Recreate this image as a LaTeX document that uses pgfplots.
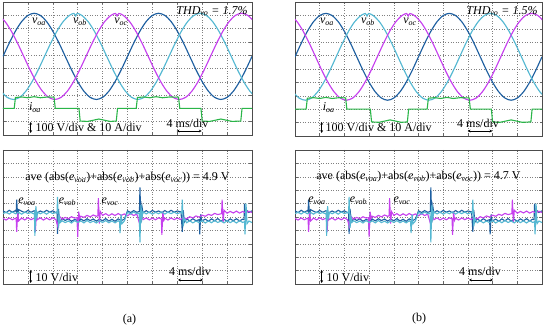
\documentclass[border=0pt]{standalone}
\usepackage{fontspec}
\setmainfont{Liberation Serif}
\usepackage{pgfplots}
\usepackage{pgfplotstable}
\pgfplotsset{compat=1.18}
\usetikzlibrary{arrows.meta}
\definecolor{cA}{RGB}{30,95,160}
\definecolor{cB}{RGB}{85,184,210}
\definecolor{cC}{RGB}{198,64,238}
\definecolor{cI}{RGB}{42,181,72}

\pgfplotstableread{
x y
0 5.91
0.25 6.91
0.5 7.81
0.75 8.53
1 8.99
1.25 9.15
1.5 8.99
1.75 8.53
2 7.81
2.25 6.91
2.5 5.91
2.75 4.91
3 4.01
3.25 3.29
3.5 2.83
3.75 2.67
4 2.83
4.25 3.29
4.5 4.01
4.75 4.91
5 5.91
5.25 6.91
5.5 7.81
5.75 8.53
6 8.99
6.25 9.15
6.5 8.99
6.75 8.53
7 7.81
7.25 6.91
7.5 5.91
7.75 4.91
8 4.01
8.25 3.29
8.5 2.83
8.75 2.67
9 2.83
9.25 3.29
9.5 4.01
9.75 4.91
10 5.91
}\voa

\pgfplotstableread{
x y
-0.083 3.29
0.167 2.83
0.417 2.67
0.667 2.83
0.917 3.29
1.167 4.01
1.417 4.91
1.667 5.91
1.917 6.91
2.167 7.81
2.417 8.53
2.667 8.99
2.85 9.14
2.917 8.95
2.98 9.14
3.167 8.99
3.417 8.53
3.667 7.81
3.917 6.91
4.167 5.91
4.417 4.91
4.667 4.01
4.917 3.29
5.167 2.83
5.417 2.67
5.667 2.83
5.917 3.29
6.167 4.01
6.417 4.91
6.667 5.91
6.917 6.91
7.167 7.81
7.417 8.53
7.667 8.99
7.917 9.15
8.167 8.99
8.417 8.53
8.667 7.81
8.917 6.91
9.167 5.91
9.417 4.91
9.667 4.01
9.917 3.29
10.167 2.83
}\vob

\pgfplotstableread{
x y
-0.167 8.99
0.083 8.53
0.333 7.81
0.583 6.91
0.833 5.91
1.083 4.91
1.333 4.01
1.583 3.29
1.833 2.83
2.083 2.67
2.333 2.83
2.583 3.29
2.833 4.01
3.083 4.91
3.333 5.91
3.583 6.91
3.833 7.81
4.083 8.53
4.333 8.99
4.52 9.14
4.583 8.95
4.65 9.14
4.833 8.99
5.083 8.53
5.333 7.81
5.583 6.91
5.833 5.91
6.083 4.91
6.333 4.01
6.583 3.29
6.833 2.83
7.083 2.67
7.333 2.83
7.583 3.29
7.833 4.01
8.083 4.91
8.333 5.91
8.583 6.91
8.833 7.81
9.083 8.53
9.333 8.99
9.583 9.15
9.833 8.99
10.083 8.53
}\voc

\pgfplotstableread{
x y
0 2.0
0.45 2.0
0.5 2.82
0.75 2.86
1.0 2.8
1.25 2.88
1.5 2.8
1.8 2.86
2.05 2.84
2.1 2.0
3.05 2.0
3.1 1.05
3.4 1.02
3.65 1.12
3.85 1.2
4.05 1.12
4.3 1.02
4.55 1.05
4.6 2.0
5.35 2.0
5.4 2.82
5.65 2.86
5.9 2.8
6.15 2.88
6.4 2.8
6.7 2.86
7.05 2.84
7.1 2.0
7.95 2.0
8.0 1.05
8.3 1.02
8.55 1.12
8.75 1.2
8.95 1.12
9.2 1.02
9.55 1.05
9.6 2.0
10 2.0
}\ioa

\pgfplotstableread{
x y
0 5.46
0.125 5.32
0.25 5.50
0.375 5.36
0.5 5.48
0.53 5.40
0.55 6.30
0.59 5.0
0.63 5.55
0.75 5.43
0.875 5.33
1.0 5.49
1.125 5.35
1.25 5.47
1.375 5.31
1.5 5.45
1.625 5.34
1.75 5.50
1.875 5.37
2.0 5.46
2.125 5.32
2.17 5.38
2.19 3.75
2.23 5.6
2.27 4.6
2.375 4.88
2.5 4.74
2.625 4.86
2.75 4.68
2.875 4.81
2.98 4.76
3.0 4.05
3.04 5.1
3.08 4.7
3.125 4.85
3.25 4.71
3.375 4.87
3.5 4.73
3.625 4.85
3.75 4.69
3.875 4.84
4.0 4.72
4.125 4.88
4.25 4.70
4.375 4.83
4.5 4.68
4.625 4.86
4.75 4.72
4.875 4.84
5.0 5.46
5.125 5.33
5.25 5.48
5.375 5.35
5.48 5.42
5.5 7.2
5.54 4.6
5.58 5.8
5.62 5.3
5.75 5.47
5.875 5.32
6.0 5.49
6.125 5.36
6.25 5.45
6.375 5.31
6.5 5.48
6.625 5.34
6.75 5.50
6.875 5.36
7.0 5.45
7.15 5.38
7.2 3.9
7.24 5.5
7.28 4.6
7.375 4.86
7.5 4.70
7.625 4.87
7.75 4.72
7.88 4.8
7.9 3.7
7.94 5.2
7.98 4.7
8.125 4.84
8.25 4.68
8.375 4.86
8.5 4.71
8.625 4.88
8.75 4.70
8.875 4.83
9.0 4.69
9.125 4.86
9.25 4.72
9.375 4.87
9.5 4.70
9.625 4.84
9.68 4.8
9.7 6.0
9.74 5.1
9.78 5.5
9.875 5.34
10 5.46
}\eA

\pgfplotstableread{
x y
0 5.25
0.125 5.36
0.25 5.22
0.375 5.38
0.5 5.24
0.625 5.35
0.75 5.21
0.875 5.37
1.0 5.26
1.125 5.33
1.25 5.22
1.26 5.28
1.28 3.6
1.32 5.8
1.36 5.0
1.40 5.35
1.5 5.24
1.625 5.36
1.75 5.21
1.875 5.38
2.0 5.25
2.125 5.34
2.17 5.3
2.19 6.5
2.23 4.2
2.27 5.0
2.31 4.6
2.375 4.72
2.5 4.58
2.625 4.70
2.75 4.55
2.875 4.73
3.0 4.60
3.125 4.71
3.25 4.56
3.375 4.74
3.5 4.58
3.625 4.69
3.75 4.55
3.875 4.72
4.0 4.59
4.125 4.73
4.25 4.57
4.375 4.70
4.5 4.56
4.625 4.72
4.68 4.65
4.70 3.8
4.74 5.2
4.78 4.5
4.875 4.70
5.0 5.36
5.125 5.22
5.25 5.38
5.375 5.24
5.47 5.3
5.5 3.1
5.54 5.9
5.58 4.9
5.62 5.4
5.75 5.23
5.875 5.37
6.0 5.21
6.125 5.35
6.25 5.24
6.375 5.38
6.5 5.22
6.625 5.36
6.75 5.25
6.875 5.37
7.0 5.23
7.125 5.34
7.18 5.3
7.2 6.3
7.24 4.3
7.28 4.9
7.375 4.57
7.5 4.72
7.625 4.56
7.75 4.70
7.875 4.58
8.0 4.73
8.125 4.55
8.25 4.71
8.375 4.57
8.5 4.74
8.625 4.59
8.75 4.70
8.875 4.56
9.0 4.72
9.125 4.58
9.25 4.71
9.375 4.55
9.5 4.73
9.625 4.59
9.70 4.65
9.72 3.7
9.76 6.0
9.80 4.5
9.875 4.70
10 4.58
}\eB

\pgfplotstableread{
x y
0 4.90
0.125 4.77
0.25 4.93
0.375 4.79
0.5 4.91
0.53 4.85
0.55 3.9
0.59 5.3
0.63 4.7
0.75 4.92
0.875 4.78
1.0 4.94
1.125 4.80
1.25 4.91
1.28 4.85
1.30 3.9
1.34 5.2
1.38 4.8
1.5 4.93
1.625 4.77
1.75 4.92
1.875 4.79
2.0 4.94
2.125 4.80
2.2 4.3
2.24 5.1
2.375 4.84
2.5 4.97
2.625 4.86
2.75 5.02
2.875 4.92
2.98 4.95
3.0 3.5
3.04 5.4
3.08 4.9
3.125 5.06
3.25 4.97
3.375 5.12
3.5 5.01
3.625 5.15
3.75 5.05
3.81 5.1
3.83 6.4
3.87 4.5
3.91 5.4
4.0 5.12
4.125 5.25
4.25 5.10
4.375 5.24
4.5 5.11
4.625 5.26
4.75 5.12
4.875 5.23
5.0 5.09
5.125 5.25
5.25 5.11
5.375 5.22
5.5 4.4
5.54 5.2
5.625 4.80
5.75 4.93
5.875 4.78
6.0 4.92
6.125 4.79
6.25 4.94
6.36 4.85
6.38 3.67
6.42 5.4
6.46 4.75
6.5 4.91
6.625 4.77
6.75 4.93
6.875 4.80
7.0 4.92
7.125 4.81
7.25 4.96
7.375 4.86
7.5 5.02
7.625 4.93
7.75 5.08
7.875 4.99
8.0 5.14
8.125 5.05
8.25 5.20
8.375 5.12
8.5 5.27
8.625 5.18
8.78 5.25
8.8 6.3
8.84 4.6
8.88 5.5
9.0 5.28
9.125 5.42
9.25 5.30
9.375 5.44
9.5 5.29
9.625 5.41
9.75 5.31
9.875 5.43
10 5.33
}\eC

\pgfplotsset{
  osc/.style={
    scale only axis, anchor=south west,
    xmin=0, xmax=10, ymin=0, ymax=10,
    xtick={0,1,...,10}, ytick={0,1,...,10},
    xticklabels={}, yticklabels={},
    tick align=inside, major tick length=2.5pt,
    tick style={line width=0.5pt, black!60},
    grid=major, major grid style={line width=0.55pt, dotted, black!50},
    axis line style={line width=0.9pt, black!70},
  },
  wave/.style={line width=1.15pt, smooth},
  err/.style={line width=1.1pt},
}
\newcommand{\tf}{\fontsize{12}{13}\selectfont}

\begin{document}
\begin{tikzpicture}[x=1pt,y=1pt]
\path[use as bounding box] (0,0) rectangle (550,328);

% (a) top
\begin{axis}[osc, at={(3pt,193pt)}, width=249pt, height=133pt]
\addplot[cA, wave] table {\voa};
\addplot[cB, wave] table {\vob};
\addplot[cC, wave] table {\voc};
\addplot[cI, line width=1.1pt] table {\ioa};
\end{axis}
% (b) top
\begin{axis}[osc, at={(295pt,192pt)}, width=247pt, height=134pt]
\addplot[cA, wave] table {\voa};
\addplot[cB, wave] table {\vob};
\addplot[cC, wave] table {\voc};
\addplot[cI, line width=1.1pt] table {\ioa};
\end{axis}
% (a) bottom
\begin{axis}[osc, at={(3pt,44pt)}, width=249pt, height=134pt]
\addplot[cA, err] table {\eA};
\addplot[cC, err] table {\eC};
\addplot[cB, err] table {\eB};
\end{axis}
% (b) bottom
\begin{axis}[osc, at={(295pt,44pt)}, width=247pt, height=134pt]
\addplot[cA, err] table {\eA};
\addplot[cC, err] table {\eC};
\addplot[cB, err] table {\eB};
\end{axis}

\tikzset{dar/.style={{Stealth[length=2.8pt,width=2.8pt]}-{Stealth[length=2.8pt,width=2.8pt]}, line width=0.7pt}}

% labels top (a)
\node[font=\tf] at (39,306) {\textit{v}\textsubscript{\textit{oa}}};
\node[font=\tf] at (80,306) {\textit{v}\textsubscript{\textit{ob}}};
\node[font=\tf] at (121,306) {\textit{v}\textsubscript{\textit{oc}}};
\node[font=\tf] at (212,317) {\textit{THD}\textsubscript{\textit{vo}}\textit{ = 1.7\%}};
\node[font=\tf] at (35,220.5) {\textit{i}\textsubscript{\textit{oa}}};
\draw[dar] (30.7,206) -- (30.7,195);
\node[font=\tf, anchor=west, inner sep=0pt] at (35.5,201) {100 V/div \& 10 A/div};
\node[font=\tf] at (187.5,205) {4 ms/div};
\draw[dar] (176.7,197) -- (201.7,197);

% labels top (b)
\node[font=\tf] at (327,306) {\textit{v}\textsubscript{\textit{oa}}};
\node[font=\tf] at (368,306) {\textit{v}\textsubscript{\textit{ob}}};
\node[font=\tf] at (410,306) {\textit{v}\textsubscript{\textit{oc}}};
\node[font=\tf] at (502,317) {\textit{THD}\textsubscript{\textit{vo}}\textit{ = 1.5\%}};
\node[font=\tf] at (328.7,220.5) {\textit{i}\textsubscript{\textit{oa}}};
\draw[dar] (321.7,206) -- (321.7,195);
\node[font=\tf, anchor=west, inner sep=0pt] at (325.5,201) {100 V/div \& 10 A/div};
\node[font=\tf] at (478,205) {4 ms/div};
\draw[dar] (467.7,197) -- (492.3,197);

% labels bottom (a)
\node[font=\tf] at (127.5,150) {ave (abs(\textit{e}\textsubscript{\textit{voa}})+abs(\textit{e}\textsubscript{\textit{vob}})+abs(\textit{e}\textsubscript{\textit{voc}})) = 4.9 V};
\node[font=\tf] at (27,126) {\textit{e}\textsubscript{\textit{voa}}};
\node[font=\tf] at (67.5,126) {\textit{e}\textsubscript{\textit{vob}}};
\node[font=\tf] at (110,126) {\textit{e}\textsubscript{\textit{voc}}};
\draw[dar] (30.7,58) -- (30.7,45);
\node[font=\tf, anchor=west, inner sep=0pt] at (35.5,51) {10 V/div};
\node[font=\tf] at (190,56.3) {4 ms/div};
\draw[dar] (178,48) -- (203,48);
\node[font=\tf] at (129.5,8) {(a)};

% labels bottom (b)
\node[font=\tf] at (418.5,151) {ave (abs(\textit{e}\textsubscript{\textit{voa}})+abs(\textit{e}\textsubscript{\textit{vob}})+abs(\textit{e}\textsubscript{\textit{voc}})) = 4.7 V};
\node[font=\tf] at (317,127) {\textit{e}\textsubscript{\textit{voa}}};
\node[font=\tf] at (358.5,127) {\textit{e}\textsubscript{\textit{vob}}};
\node[font=\tf] at (402,127) {\textit{e}\textsubscript{\textit{voc}}};
\draw[dar] (321.7,58) -- (321.7,45);
\node[font=\tf, anchor=west, inner sep=0pt] at (326.5,51) {10 V/div};
\node[font=\tf] at (480,56.3) {4 ms/div};
\draw[dar] (469,48) -- (493,48);
\node[font=\tf] at (419,9.5) {(b)};
\end{tikzpicture}
\end{document}
